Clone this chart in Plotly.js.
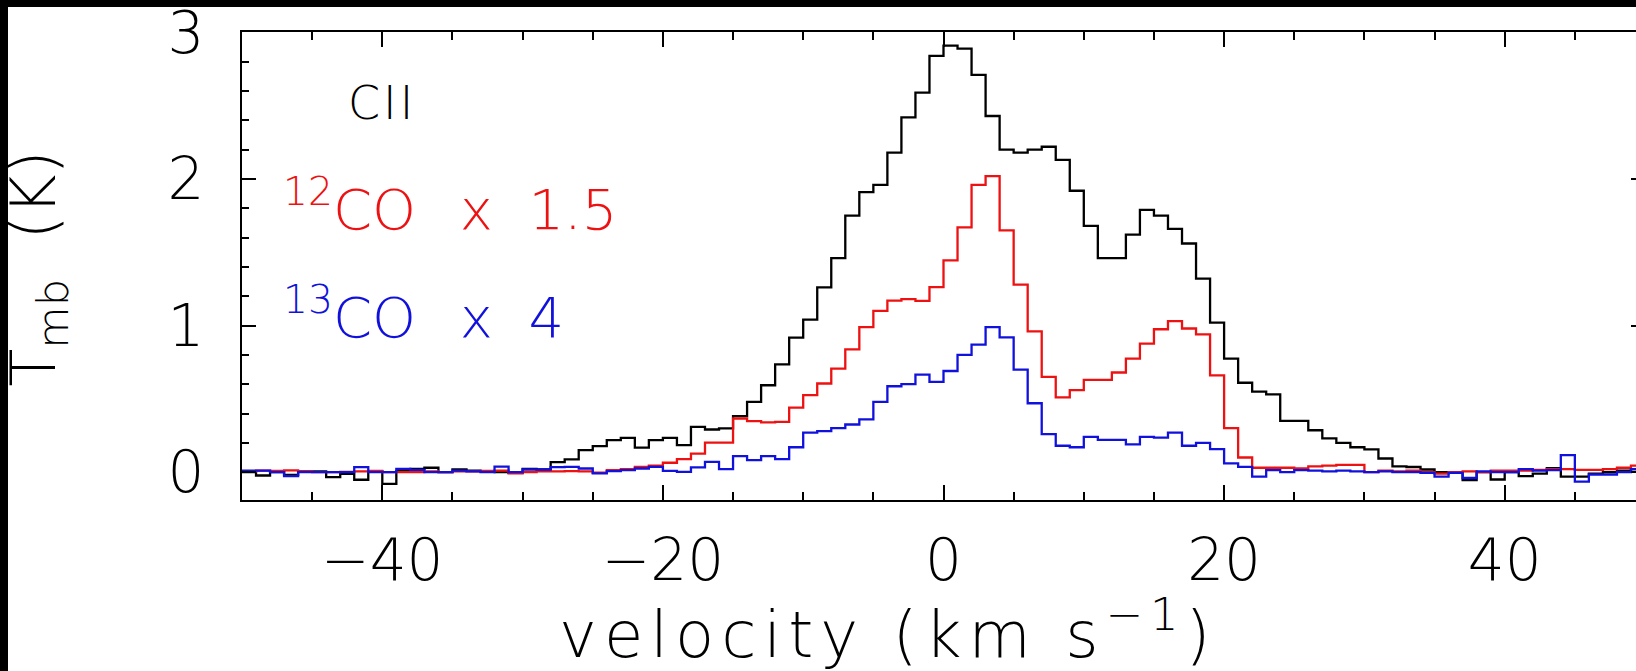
<!DOCTYPE html>
<html><head><meta charset="utf-8">
<script src="https://cdn.plot.ly/plotly-3.0.1.min.js"></script>
<style>
html,body{margin:0;padding:0;background:#000;overflow:hidden;width:1636px;height:671px;}
#plot{position:absolute;left:8px;top:7px;width:1650px;height:664px;}
</style></head><body><div id="plot"></div>
<script>
// channel centres (km/s)
const velocity = [-49.5,-48.5,-47.5,-46.5,-45.5,-44.5,-43.5,-42.5,-41.5,-40.5,
 -39.5,-38.5,-37.5,-36.5,-35.5,-34.5,-33.5,-32.5,-31.5,-30.5,
 -29.5,-28.5,-27.5,-26.5,-25.5,-24.5,-23.5,-22.5,-21.5,-20.5,
 -19.5,-18.5,-17.5,-16.5,-15.5,-14.5,-13.5,-12.5,-11.5,-10.5,
 -9.5,-8.5,-7.5,-6.5,-5.5,-4.5,-3.5,-2.5,-1.5,-0.5,
 0.5,1.5,2.5,3.5,4.5,5.5,6.5,7.5,8.5,9.5,
 10.5,11.5,12.5,13.5,14.5,15.5,16.5,17.5,18.5,19.5,
 20.5,21.5,22.5,23.5,24.5,25.5,26.5,27.5,28.5,29.5,
 30.5,31.5,32.5,33.5,34.5,35.5,36.5,37.5,38.5,39.5,
 40.5,41.5,42.5,43.5,44.5,45.5,46.5,47.5,48.5,49.5];

// [C II] Tmb (K)
const cii = [0.0,-0.023,0.0,-0.018,0.005,0.005,-0.034,-0.011,-0.052,0.007,
 -0.08,0.007,0.023,0.03,0.0,0.018,0.011,0.007,0.0,-0.005,
 0.023,0.018,0.068,0.087,0.15,0.177,0.218,0.234,0.168,0.218,
 0.234,0.184,0.309,0.291,0.298,0.382,0.48,0.593,0.736,0.918,
 1.04,1.26,1.46,1.75,1.91,1.96,2.18,2.42,2.59,2.84,
 2.91,2.89,2.71,2.43,2.20,2.18,2.20,2.22,2.13,1.92,
 1.68,1.46,1.46,1.62,1.79,1.75,1.66,1.56,1.32,1.02,
 0.775,0.61,0.55,0.53,0.35,0.35,0.286,0.23,0.20,0.17,
 0.155,0.093,0.04,0.035,0.018,0.0,0.0,-0.055,0.0,-0.05,
 0.0,-0.027,-0.01,0.027,-0.03,-0.03,-0.01,0.0,0.01,0.02];

// 12CO x 1.5
const co12 = [0.005,0.01,0.008,0.012,0.005,0.0,0.0,0.002,0.005,0.008,
 0.0,0.0,0.0,0.005,0.0,0.005,0.005,0.008,0.01,-0.008,
 0.0,0.005,0.005,0.007,0.005,-0.004,0.014,0.02,0.036,0.045,
 0.064,0.089,0.127,0.202,0.202,0.366,0.348,0.339,0.343,0.44,
 0.525,0.605,0.707,0.838,0.99,1.10,1.17,1.18,1.168,1.263,
 1.445,1.67,1.96,2.02,1.65,1.28,0.96,0.65,0.51,0.56,
 0.63,0.63,0.68,0.775,0.877,0.975,1.03,0.98,0.94,0.66,
 0.30,0.10,0.03,0.03,0.03,0.025,0.04,0.045,0.05,0.05,
 0.0,0.01,0.005,0.01,0.0,-0.01,0.0,0.005,0.0,0.01,
 0.01,0.01,0.015,0.02,0.02,0.015,0.015,0.02,0.03,0.045];

// 13CO x 4
const co13 = [0.01,0.011,0.0,-0.027,0.0,0.0,0.0,0.0,0.034,0.0,
 0.0,0.023,0.016,0.0,0.0,0.01,0.005,0.0,0.038,0.0,
 0.018,0.018,0.034,0.036,0.025,-0.009,0.007,0.014,0.025,0.036,
 0.009,0.002,0.032,0.07,0.02,0.109,0.082,0.109,0.089,0.17,
 0.27,0.28,0.30,0.325,0.36,0.48,0.586,0.60,0.666,0.616,
 0.69,0.80,0.87,0.99,0.92,0.70,0.47,0.26,0.18,0.17,
 0.24,0.22,0.22,0.19,0.24,0.235,0.27,0.18,0.20,0.157,
 0.06,0.036,-0.03,0.014,0.0,0.014,0.01,0.005,0.01,0.005,
 0.0,0.005,0.0,0.0,-0.005,-0.03,-0.005,-0.04,0.005,0.0,
 0.0,0.02,0.01,0.014,0.116,-0.064,-0.016,-0.016,0.0,0.02];

const xTickVals = [-40,-20,0,20,40];
const yTickVals = [0,1,2,3];

const FONT = 'DejaVu Sans';
const W = 200;

function stepTrace(vals, color){
  const last = velocity.length-1;
  const x = velocity.map(v => v-0.5).concat([velocity[last]+0.5]);
  const y = vals.concat([vals[last]]);
  return {x, y, type:'scatter', mode:'lines', line:{shape:'hv', color, width:2.3}, hoverinfo:'skip'};
}

const data = [stepTrace(cii,'#000000'), stepTrace(co12,'#ee1111'), stepTrace(co13,'#1111dd')];

const axisCommon = {
  showgrid:false, zeroline:false, showline:true, linecolor:'#000', linewidth:2,
  mirror:'ticks', ticks:'inside', tickcolor:'#000', tickwidth:2,
  ticklabeloverflow:'allow',
  tickfont:{family:FONT, size:58, color:'#000', weight:W}
};

const layout = {
  width:1650, height:664,
  margin:{l:234, r:13, t:25, b:171},
  paper_bgcolor:'#fff', plot_bgcolor:'#fff',
  showlegend:false,
  xaxis: Object.assign({}, axisCommon, {
    range:[-50,50], tickmode:'array', tickvals:xTickVals, ticklen:15,
    ticklabelstandoff:8,
    minor:{dtick:5, tick0:0, ticks:'inside', ticklen:8, tickwidth:2, tickcolor:'#000', showgrid:false}
  }),
  yaxis: Object.assign({}, axisCommon, {
    range:[-0.19,3.003], tickmode:'array', tickvals:yTickVals, ticklen:14,
    ticklabelstandoff:24,
    minor:{dtick:0.2, tick0:0, ticks:'inside', ticklen:7, tickwidth:2, tickcolor:'#000', showgrid:false}
  }),
  annotations:[
    {xref:'x', yref:'y', x:-42.6, y:2.52, xanchor:'left', yanchor:'middle', showarrow:false,
     text:'<span style="letter-spacing:3px">CII</span>', font:{family:FONT, size:46, color:'#000', weight:W}},
    {xref:'x', yref:'y', x:-47.2, y:1.82, xanchor:'left', yanchor:'middle', showarrow:false,
     text:'<sup>12</sup>CO<span style="letter-spacing:4px">\u00a0\u00a0</span>x\u00a0\u00a01.5', font:{family:FONT, size:56, color:'#ee1111', weight:W}},
    {xref:'x', yref:'y', x:-47.2, y:1.08, xanchor:'left', yanchor:'middle', showarrow:false,
     text:'<sup>13</sup>CO<span style="letter-spacing:4px">\u00a0\u00a0</span>x\u00a0\u00a04', font:{family:FONT, size:56, color:'#1111dd', weight:W}},
    {xref:'paper', yref:'paper', x:0.461, y:-0.371, xanchor:'center', yanchor:'bottom', showarrow:false,
     text:'<span style="letter-spacing:7px">velocity\u00a0(km\u00a0s<sup>\u22121</sup>)</span>', font:{family:FONT, size:64, color:'#000', weight:W}},
    {xref:'paper', yref:'paper', x:-0.146, y:0.495, xanchor:'center', yanchor:'middle', showarrow:false, textangle:-90,
     text:'T<sub>mb</sub>\u00a0\u00a0(K)', font:{family:FONT, size:62, color:'#000', weight:W}}
  ]
};

Plotly.newPlot('plot', data, layout, {displayModeBar:false, staticPlot:true});
</script>
</body></html>
